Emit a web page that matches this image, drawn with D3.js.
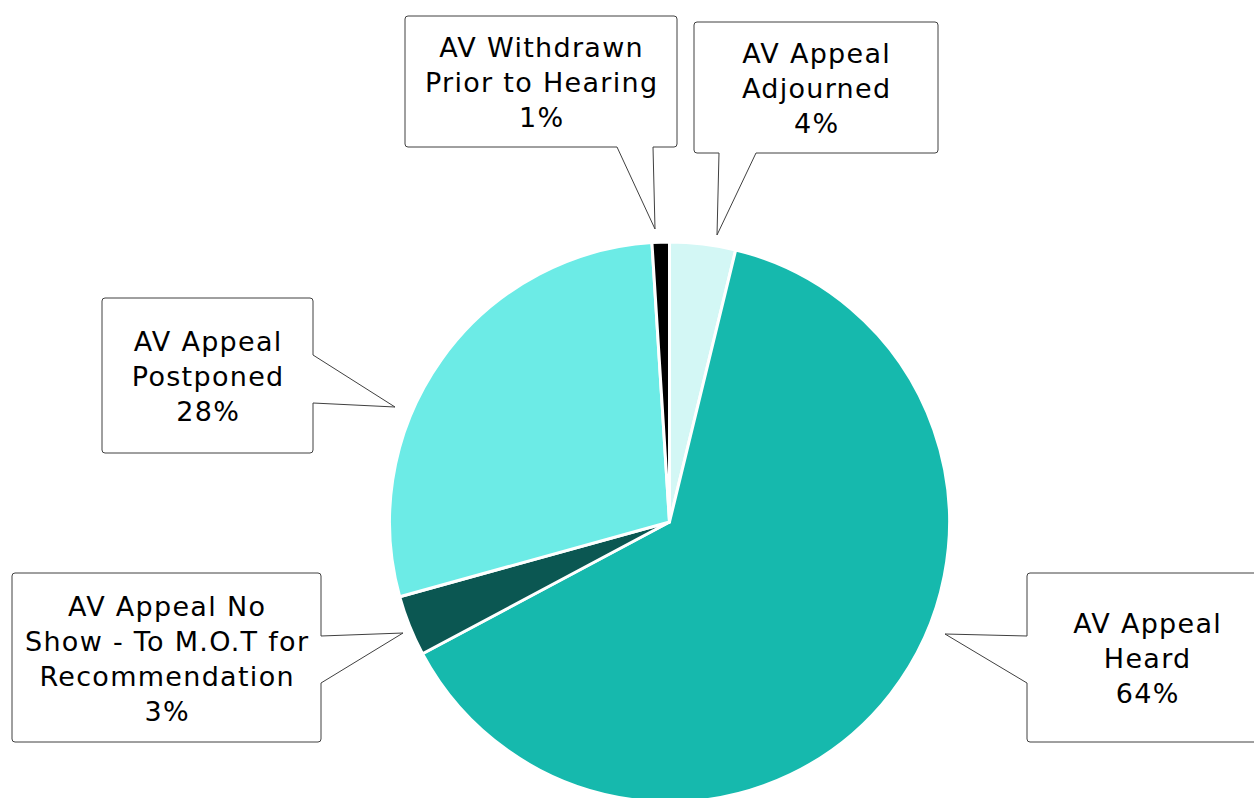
<!DOCTYPE html>
<html>
<head>
<meta charset="utf-8">
<script src="https://cdn.jsdelivr.net/npm/d3@7.9.0/dist/d3.min.js"></script>
<style>
  html, body { margin: 0; padding: 0; background: #fff; }
  svg { display: block; }
</style>
</head>
<body>
<svg id="chart" width="1254" height="798"></svg>
<script>
const categories = [
  "AV Appeal Adjourned",
  "AV Appeal Heard",
  "AV Appeal No Show - To M.O.T for Recommendation",
  "AV Appeal Postponed",
  "AV Withdrawn Prior to Hearing"
];
const values = [3.8, 63.4, 3.5, 28.3, 1.0];
const percentLabels = ["4%", "64%", "3%", "28%", "1%"];
const labelLines = [
  ["AV Appeal", "Adjourned"],
  ["AV Appeal", "Heard"],
  ["AV Appeal No", "Show - To M.O.T for", "Recommendation"],
  ["AV Appeal", "Postponed"],
  ["AV Withdrawn", "Prior to Hearing"]
];
const colors = ["#d3f7f5", "#16b9ad", "#0b5752", "#6cebe6", "#000000"];

const svg = d3.select("#chart");
const cx = 669.5, cy = 522, radius = 280;

// callout boxes: box + which side the pointer leaves from + pointer tip
const callouts = [
  { x: 694, y: 22, w: 244, h: 131, side: "bottom", b1: 719, b2: 756, tip: [717, 235] },
  { x: 1027, y: 573, w: 240, h: 169, side: "left", b1: 636, b2: 683, tip: [945, 634] },
  { x: 12, y: 573, w: 309, h: 169, side: "right", b1: 636, b2: 683, tip: [403, 633] },
  { x: 102, y: 298, w: 211, h: 155, side: "right", b1: 355, b2: 403, tip: [395, 407] },
  { x: 405, y: 16, w: 272, h: 131, side: "bottom", b1: 617, b2: 653, tip: [655, 229] }
];

const pie = d3.pie().sort(null).value(d => d.value);
const arcs = pie(categories.map((c, i) => ({ name: c, value: values[i], i })));
const arc = d3.arc().innerRadius(0).outerRadius(radius);

const g = svg.append("g").attr("transform", `translate(${cx},${cy})`);
g.selectAll("path")
  .data(arcs)
  .join("path")
  .attr("d", arc)
  .attr("fill", d => colors[d.data.i])
  .attr("stroke", "#fff")
  .attr("stroke-width", 3)
  .attr("stroke-linejoin", "round");

function calloutPath(c) {
  const r = 3;
  const x0 = c.x, y0 = c.y, x1 = c.x + c.w, y1 = c.y + c.h;
  const p = d3.path();
  p.moveTo(x0 + r, y0);
  p.lineTo(x1 - r, y0);
  p.arcTo(x1, y0, x1, y0 + r, r);
  if (c.side === "right") {
    p.lineTo(x1, c.b1);
    p.lineTo(c.tip[0], c.tip[1]);
    p.lineTo(x1, c.b2);
  }
  p.lineTo(x1, y1 - r);
  p.arcTo(x1, y1, x1 - r, y1, r);
  if (c.side === "bottom") {
    p.lineTo(c.b2, y1);
    p.lineTo(c.tip[0], c.tip[1]);
    p.lineTo(c.b1, y1);
  }
  p.lineTo(x0 + r, y1);
  p.arcTo(x0, y1, x0, y1 - r, r);
  if (c.side === "left") {
    p.lineTo(x0, c.b2);
    p.lineTo(c.tip[0], c.tip[1]);
    p.lineTo(x0, c.b1);
  }
  p.lineTo(x0, y0 + r);
  p.arcTo(x0, y0, x0 + r, y0, r);
  p.closePath();
  return p.toString();
}

const lineH = 35;
const spacing = 1.3;
const labels = svg.append("g")
  .selectAll("g")
  .data(arcs)
  .join("g");

labels.append("path")
  .attr("d", d => calloutPath(callouts[d.data.i]))
  .attr("fill", "#fff")
  .attr("stroke", "#404040")
  .attr("stroke-width", 1)
  .attr("stroke-linejoin", "round");

labels.each(function(d) {
  const i = d.data.i;
  const c = callouts[i];
  const lines = labelLines[i].concat([percentLabels[i]]);
  const midX = (i === 1 ? 1147 : c.x + c.w / 2) + spacing / 2;
  const midY = c.y + c.h / 2;
  const t = d3.select(this).append("text")
    .attr("text-anchor", "middle")
    .attr("font-family", "'DejaVu Sans', sans-serif")
    .attr("font-size", 27)
    .attr("letter-spacing", spacing)
    .attr("fill", "#000");
  lines.forEach((s, k) => {
    t.append("tspan")
      .attr("x", midX)
      .attr("y", midY + (k - (lines.length - 1) / 2) * lineH)
      .attr("dy", "0.4em")
      .text(s);
  });
});
</script>
</body>
</html>
